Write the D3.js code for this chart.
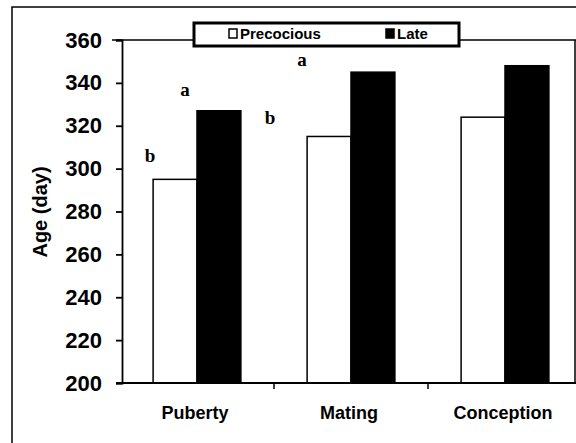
<!DOCTYPE html>
<html>
<head>
<meta charset="utf-8">
<script src="https://cdn.jsdelivr.net/npm/d3@7"></script>
<style>
	body { margin: 0; background: #fff; }
	svg { display: block; }
	text { font-family: "Liberation Sans", Arial, sans-serif; font-weight: bold; fill: #000; }
</style>
</head>
<body>
<svg width="576" height="443"></svg>
<script>
const categories = ['Puberty', 'Mating', 'Conception'];
const seriesNames = ['Precocious', 'Late'];
const precocious = [295, 315, 324];
const late = [327, 345, 348];
const yTicks = [200, 220, 240, 260, 280, 300, 320, 340, 360];

// significance letters: category, letter, height in days
const letterCats = ['Puberty', 'Puberty', 'Mating', 'Mating'];
const letterText = ['b', 'a', 'b', 'a'];
const letterAt = [303, 334, 321, 348];

const svg = d3.select('svg');

const xScale = d3.scaleBand()
	.domain(categories)
	.range([120, 582])
	.paddingInner(0.43)
	.paddingOuter(0.215);

const sub = d3.scaleBand()
	.domain(seriesNames)
	.range([0, xScale.bandwidth()]);

const yScale = d3.scaleLinear()
	.domain([200, 360])
	.range([383, 40]);

// outer frame (scanned figure border)
svg.append('path')
	.attr('d', 'M12,443V7H576')
	.attr('fill', 'none')
	.attr('stroke', '#000')
	.attr('stroke-width', 1.5);

// plot area top and right edges
svg.append('path')
	.attr('d', 'M112,40H576M575,40V383')
	.attr('fill', 'none')
	.attr('stroke', '#000')
	.attr('stroke-width', 1.5);

// bars
const data = categories.map((c, i) => ({ cat: c, values: [precocious[i], late[i]] }));

const groups = svg.selectAll('.grp')
	.data(data)
	.enter().append('g')
	.attr('class', 'grp')
	.attr('transform', d => 'translate(' + xScale(d.cat) + ',0)');

groups.selectAll('rect')
	.data(d => d.values.map((v, j) => ({ s: seriesNames[j], v: v })))
	.enter().append('rect')
	.attr('x', d => sub(d.s))
	.attr('y', d => yScale(d.v))
	.attr('width', sub.bandwidth())
	.attr('height', d => yScale(200) - yScale(d.v))
	.attr('fill', d => d.s === 'Late' ? '#000' : '#fff')
	.attr('stroke', '#000')
	.attr('stroke-width', 1.5);

// y axis
const yAxis = svg.append('g')
	.attr('transform', 'translate(122,0)')
	.call(d3.axisLeft(yScale).tickValues(yTicks).tickSize(6).tickPadding(14));
yAxis.selectAll('path, line').attr('stroke', '#000').attr('stroke-width', 1.8);
yAxis.selectAll('text')
	.attr('font-size', 22)
	.attr('font-family', '"Liberation Sans", Arial, sans-serif')
	.attr('font-weight', 'bold');

// x axis
const xAxis = svg.append('g')
	.attr('transform', 'translate(0,383)');
xAxis.append('line')
	.attr('x1', 116).attr('x2', 576)
	.attr('stroke', '#000').attr('stroke-width', 1.8);
xAxis.selectAll('.tk')
	.data(categories.slice(1))
	.enter().append('line')
	.attr('x1', d => xScale(d) - xScale.step() * xScale.paddingInner() / 2)
	.attr('x2', d => xScale(d) - xScale.step() * xScale.paddingInner() / 2)
	.attr('y1', 0).attr('y2', 6)
	.attr('stroke', '#000').attr('stroke-width', 1.5);
xAxis.selectAll('.lbl')
	.data(categories)
	.enter().append('text')
	.attr('x', d => xScale(d) + xScale.bandwidth() / 2 - 2)
	.attr('y', 36)
	.attr('text-anchor', 'middle')
	.attr('font-size', 18)
	.text(d => d);

// y axis title
svg.append('text')
	.attr('transform', 'translate(47,212) rotate(-90)')
	.attr('text-anchor', 'middle')
	.attr('font-size', 20)
	.text('Age (day)');

// significance letters
const letterDx = [-3, 32, -37, -5];
svg.selectAll('.sig')
	.data(letterText)
	.enter().append('text')
	.attr('class', 'sig')
	.attr('x', (d, i) => xScale(letterCats[i]) + letterDx[i])
	.attr('y', (d, i) => yScale(letterAt[i]))
	.attr('text-anchor', 'middle')
	.attr('font-size', 19)
	.style('font-family', '"Liberation Serif", "Times New Roman", serif')
	.style('fill', '#000')
	.text(d => d);

// legend
const legend = svg.append('g');
legend.append('rect')
	.attr('x', 194).attr('y', 23)
	.attr('width', 265).attr('height', 23)
	.attr('fill', '#fff')
	.attr('stroke', '#000')
	.attr('stroke-width', 3);
const legX = [229, 386];
seriesNames.forEach((s, i) => {
	legend.append('rect')
		.attr('x', legX[i]).attr('y', 29)
		.attr('width', 8).attr('height', 9)
		.attr('fill', s === 'Late' ? '#000' : '#fff')
		.attr('stroke', '#000')
		.attr('stroke-width', 1.5);
	legend.append('text')
		.attr('x', legX[i] + 11)
		.attr('y', 39)
		.attr('font-size', 15)
		.text(s);
});
</script>
</body>
</html>
